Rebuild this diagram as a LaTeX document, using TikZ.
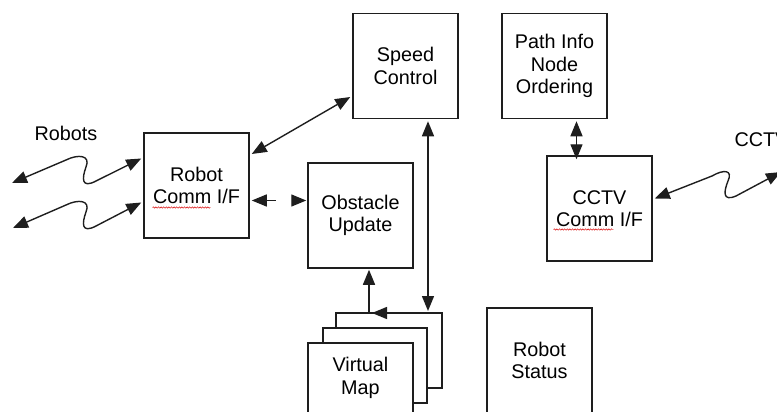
\documentclass[tikz,border=0pt]{standalone}
\usepackage{fontspec}
\setmainfont{Liberation Sans}
\usetikzlibrary{arrows.meta,calc,decorations.pathmorphing}
\definecolor{linec}{HTML}{1E1E1E}
\begin{document}
\begin{tikzpicture}[x=1pt,y=-1pt,
  font=\fontsize{19.8}{22.5}\selectfont,
  box/.style={draw=linec, line width=1.5pt, fill=white, minimum width=105pt,
    minimum height=105pt, inner sep=0pt, align=center},
  layer/.style={draw=linec, line width=1.5pt},
  tip/.tip={Triangle[length=15pt,width=12pt]},
  both/.style={draw=linec, line width=1.4pt, tip-tip},
  oneway/.style={draw=linec, line width=1.4pt, -tip},
  spell/.style={draw=red!85!black, line width=0.45pt, decorate,
    decoration={snake, amplitude=0.7pt, segment length=2.6pt}}]
\useasboundingbox (0,0) rectangle (777,412);
\clip (0,0) rectangle (777,412);

% processing blocks
\node[box] (sc) at (405.5,66)    {Speed\\Control};
\node[box] (pi) at (554.5,66)    {Path Info\\Node\\Ordering};
\node[box] (rc) at (196.5,185.5) {Robot\\Comm I/F};
\node[box] (ob) at (360.5,215.5) {Obstacle\\Update};
\node[box] (cc) at (599.5,208.5) {CCTV\\Comm I/F};
\node[box] (rs) at (539.5,360.5) {Robot\\Status};

% stacked virtual map pages
\draw[layer] (336,328) |- (442,313) |- (427,388);
\draw[layer] (323,343) |- (427,328) |- (413,403);
\node[box] (vm) at (360.5,395.5) {};
\node[align=center] (vmtext) at (360.5,378) {Virtual\\Map};
\coordinate (stacktop) at (428,313);

% spelling marks under "Comm"
\draw[spell] ($(rc.center)+(-44,22)$) -- ($(rc.center)+(14,22)$);
\draw[spell] ($(cc.center)+(-46,21)$) -- ($(cc.center)+(14,21)$);

% outside links
\node (robots) at (66,133) {Robots};
\node[anchor=west] (cctv) at (731,140) {CCTV};
\coordinate (r1) at (12,183);
\coordinate (r2) at (13,228);
\coordinate (cam) at (781,172);

\draw[both] (r1) -- (66,160) .. controls (78,154) and (91,155) .. (86,167)
  .. controls (82,178) and (81,189) .. (96,181) -- ($(rc.west)+(-2,-27)$);
\draw[both] (r2) -- (66,205) .. controls (78,199) and (91,200) .. (86,212)
  .. controls (82,223) and (81,234) .. (96,226) -- ($(rc.west)+(-2,17)$);
\draw[both] ($(cc.east)+(2,-10)$) -- (712,176) .. controls (724,169) and (733,170) .. (728,181)
  .. controls (724,191) and (722,202) .. (736,196) -- (cam);

% internal links
\draw[both] ($(sc.west)+(-2,31)$) -- ($(rc.east)+(2,-31.5)$);
\draw[both, dash pattern=on 10pt off 30pt] ($(rc.east)+(2,15)$) -- ($(ob.west)+(-1,-15)$);
\draw[both] ($(sc.south)+(22.5,2)$) -- ($(stacktop)+(0,-2)$);
\draw[oneway] ($(stacktop)+(-59,0)$) -- ($(ob.south)+(8.5,1)$);
\draw[oneway] (stacktop) -- ($(stacktop)+(-56,0)$);
\draw[both] ($(pi.south)+(22,2)$) -- ($(cc.north)+(-23,4)$);
\end{tikzpicture}
\end{document}
